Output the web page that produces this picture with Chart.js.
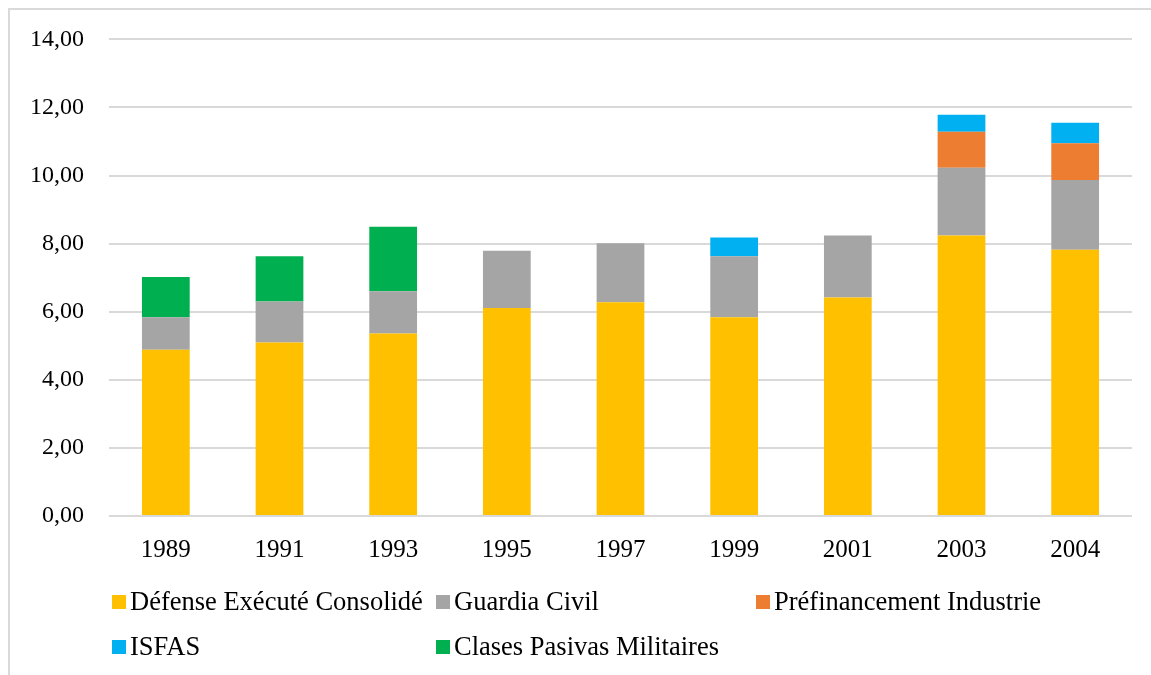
<!DOCTYPE html>
<html>
<head>
<meta charset="utf-8">
<script src="https://cdn.jsdelivr.net/npm/chart.js@4.4.1/dist/chart.umd.min.js"></script>
<style>
  html, body { margin: 0; padding: 0; background: #fff; overflow: hidden; }
  #frame {
    position: absolute; left: 8px; top: 8px; width: 1200px; height: 720px;
    border-left: 2px solid #d9d9d9; border-top: 2px solid #d9d9d9;
  }
  #wrap { position: absolute; left: 0; top: 0; width: 1151px; height: 675px; }
</style>
</head>
<body>
<div id="frame"></div>
<div id="wrap"><canvas id="chart"></canvas></div>
<script>
// Data
const years = ["1989", "1991", "1993", "1995", "1997", "1999", "2001", "2003", "2004"];
const defense = [4.88, 5.10, 5.36, 6.11, 6.28, 5.84, 6.42, 8.24, 7.82];
const guardiaCivil = [0.96, 1.20, 1.24, 1.68, 1.73, 1.79, 1.82, 1.99, 2.05];
const prefinancement = [null, null, null, null, null, null, null, 1.06, 1.08];
const isfas = [null, null, null, null, null, 0.55, null, 0.50, 0.60];
const clasesPasivas = [1.18, 1.33, 1.90, null, null, null, null, null, null];
const yTicks = [0, 2, 4, 6, 8, 10, 12, 14];

const serif = "'Liberation Serif', 'Times New Roman', serif";

// Excel-like legend drawn on a fixed grid under the chart
const gridLegendPlugin = {
  id: "gridLegend",
  afterDraw: function (chart) {
    const ctx = chart.ctx;
    const cols = [112, 436, 756];
    const rows = [602, 647];
    const box = 14;
    ctx.save();
    ctx.font = "26.5px " + serif;
    ctx.textBaseline = "middle";
    ctx.textAlign = "left";
    chart.data.datasets.forEach(function (ds, i) {
      const x = cols[i % 3];
      const y = rows[Math.floor(i / 3)];
      ctx.fillStyle = ds.backgroundColor;
      ctx.fillRect(x, y - box / 2, box, box);
      ctx.fillStyle = "#000000";
      ctx.fillText(ds.label, x + 18, y + 1);
    });
    ctx.restore();
  },
};

function bar(label, data, color) {
  return {
    label: label,
    data: data,
    backgroundColor: color,
    borderWidth: 0,
    barPercentage: 0.42,
    categoryPercentage: 1,
  };
}

const ctx = document.getElementById("chart").getContext("2d");
const chart = new Chart(ctx, {
  type: "bar",
  data: {
    labels: years,
    datasets: [
      bar("Défense Exécuté Consolidé", defense, "#FFC000"),
      bar("Guardia Civil", guardiaCivil, "#A5A5A5"),
      bar("Préfinancement Industrie", prefinancement, "#ED7D31"),
      bar("ISFAS", isfas, "#00B0F0"),
      bar("Clases Pasivas Militaires", clasesPasivas, "#00B050"),
    ],
  },
  options: {
    responsive: true,
    maintainAspectRatio: false,
    animation: false,
    layout: {
      padding: { top: 38, right: 19, left: 0, bottom: 0 },
    },
    plugins: {
      legend: { display: false },
      tooltip: { enabled: false },
    },
    scales: {
      x: {
        stacked: true,
        grid: { display: false },
        border: { display: false },
        ticks: {
          color: "#000000",
          padding: 11,
          font: { family: serif, size: 25 },
        },
        afterFit: function (scale) {
          scale.height = 675 - 516;
        },
      },
      y: {
        stacked: true,
        min: 0,
        max: 14,
        afterBuildTicks: function (scale) {
          scale.ticks = yTicks.map(function (v) { return { value: v }; });
        },
        grid: {
          color: "#d9d9d9",
          lineWidth: 2,
          drawTicks: false,
        },
        border: { display: false },
        ticks: {
          color: "#000000",
          padding: 25,
          font: { family: serif, size: 24 },
          callback: function (value) {
            return value.toFixed(2).replace(".", ",");
          },
        },
        afterFit: function (scale) {
          scale.width = 109;
        },
      },
    },
  },
  plugins: [gridLegendPlugin],
});
</script>
</body>
</html>
